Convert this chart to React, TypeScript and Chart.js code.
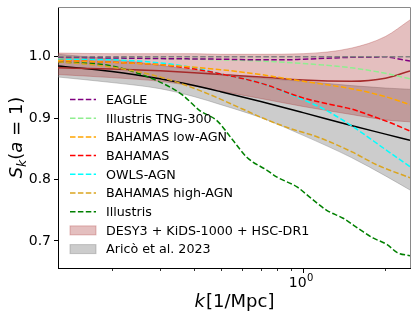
import React, { useEffect, useRef } from 'react';
import { Chart, registerables } from 'chart.js';

Chart.register(...registerables);

const FONT = '"DejaVu Sans", "Liberation Sans", sans-serif';

const K_MIN = 0.127;
const K_MAX = 2.46;
const Y_MIN = 0.656;
const Y_MAX = 1.081;

const xTickValues = [0.2, 0.3, 0.4, 0.5, 0.6, 0.7, 0.8, 0.9, 1, 2];
const xMajorBase = '10';
const xMajorExp = '0';
const yTickValues = [0.7, 0.8, 0.9, 1.0];

// Reference line
const kRef = [0.127, 2.46];
const sRef = [1.0, 1.0];

// Simulation curves
const kEagle = [0.127, 0.2, 0.3, 0.5, 0.7, 0.86, 1.0, 1.3, 1.5, 1.8, 2.0, 2.2, 2.46];
const sEagle = [0.999, 0.998, 0.997, 0.996, 0.995, 0.995, 0.996, 0.998, 0.999, 0.999, 1.0, 0.997, 0.993];

const kTng = [0.127, 0.2, 0.3, 0.5, 0.7, 1.0, 1.5, 2.0, 2.46];
const sTng = [0.998, 0.998, 0.997, 0.995, 0.993, 0.989, 0.982, 0.973, 0.964];

const kLowAgn = [0.127, 0.2, 0.3, 0.5, 0.7, 1.0, 1.5, 2.0, 2.46];
const sLowAgn = [0.994, 0.991, 0.987, 0.979, 0.971, 0.960, 0.948, 0.935, 0.922];

const kBahamas = [0.127, 0.2, 0.3, 0.4, 0.5, 0.7, 1.0, 1.3, 1.5, 1.8, 2.1, 2.46];
const sBahamas = [0.994, 0.991, 0.987, 0.980, 0.972, 0.957, 0.933, 0.921, 0.915, 0.903, 0.892, 0.879];

const kOwls = [0.127, 0.2, 0.3, 0.4, 0.5, 0.7, 1.0, 1.2, 1.5, 2.0, 2.46];
const sOwls = [0.996, 0.995, 0.990, 0.982, 0.972, 0.957, 0.930, 0.914, 0.888, 0.849, 0.821];

const kHighAgn = [0.127, 0.2, 0.3, 0.43, 0.6, 0.74, 0.9, 1.135, 1.51, 1.88, 2.46];
const sHighAgn = [0.992, 0.983, 0.967, 0.943, 0.915, 0.897, 0.883, 0.869, 0.845, 0.823, 0.803];

const kIllustris = [0.127, 0.2, 0.275, 0.334, 0.364, 0.42, 0.484, 0.554, 0.624, 0.738, 0.803, 0.95, 1.06, 1.22, 1.40, 1.62, 1.80, 2.03, 2.21, 2.46];
const sIllustris = [0.992, 0.985, 0.966, 0.948, 0.937, 0.912, 0.896, 0.864, 0.836, 0.815, 0.804, 0.788, 0.771, 0.750, 0.737, 0.718, 0.705, 0.694, 0.681, 0.676];

// Bands
const kBand = [0.127, 0.2, 0.3, 0.4, 0.5, 0.7, 1.0, 1.5, 2.0, 2.46];
const desCenter = [0.982, 0.980, 0.977, 0.974, 0.971, 0.967, 0.962, 0.960, 0.965, 0.977];
const desUpper = [1.006, 1.005, 1.005, 1.005, 1.004, 1.004, 1.005, 1.014, 1.033, 1.060];
const desLower = [0.971, 0.966, 0.960, 0.952, 0.944, 0.932, 0.919, 0.906, 0.897, 0.894];

const aricoCenter = [0.985, 0.976, 0.964, 0.953, 0.943, 0.927, 0.909, 0.888, 0.874, 0.864];
const aricoUpper = [1.004, 0.996, 0.986, 0.978, 0.972, 0.965, 0.960, 0.953, 0.949, 0.947];
const aricoLower = [0.967, 0.958, 0.948, 0.935, 0.922, 0.901, 0.872, 0.836, 0.806, 0.783];

const lineLabels = ['EAGLE', 'Illustris TNG-300', 'BAHAMAS low-AGN', 'BAHAMAS', 'OWLS-AGN', 'BAHAMAS high-AGN', 'Illustris'];
const lineColors = ['#800080', '#90EE90', '#FFA500', '#FF0000', '#00FFFF', '#DAA520', '#008000'];
const lineKs = [kEagle, kTng, kLowAgn, kBahamas, kOwls, kHighAgn, kIllustris];
const lineVals = [sEagle, sTng, sLowAgn, sBahamas, sOwls, sHighAgn, sIllustris];

const bandLabels = ['DESY3 + KiDS-1000 + HSC-DR1', 'Aricò et al. 2023'];
const bandFills = ['rgba(165,42,42,0.3)', 'rgba(128,128,128,0.4)'];
const bandLines = ['#A52A2A', '#000000'];

const DASH = [5.5, 2.4];

const pts = (ks: number[], vs: number[]) => ks.map((k, i) => ({ x: k, y: vs[i] }));

const decorPlugin = {
  id: 'decor',
  afterDatasetsDraw(chart: any) {
    const { ctx, chartArea, scales } = chart;
    const { left, right, top, bottom } = chartArea;
    ctx.save();
    // top and right spines
    ctx.strokeStyle = '#8a8a8a';
    ctx.lineWidth = 1;
    ctx.beginPath();
    ctx.moveTo(left, top + 0.5);
    ctx.lineTo(right + 0.5, top + 0.5);
    ctx.lineTo(right + 0.5, bottom);
    ctx.stroke();
    // minor x ticks
    ctx.strokeStyle = '#000';
    ctx.lineWidth = 0.8;
    xTickValues.forEach((v) => {
      if (v === 1) return;
      const px = Math.round(scales.x.getPixelForValue(v)) + 0.5;
      ctx.beginPath();
      ctx.moveTo(px, bottom);
      ctx.lineTo(px, bottom + 3);
      ctx.stroke();
    });
    ctx.restore();
  },
  afterDraw(chart: any) {
    const { ctx, chartArea, scales } = chart;
    const { left, right, top, bottom } = chartArea;
    ctx.save();

    // major x tick label 10^0
    const tx = scales.x.getPixelForValue(1);
    ctx.fillStyle = '#000';
    ctx.textAlign = 'left';
    ctx.textBaseline = 'alphabetic';
    ctx.font = `14px ${FONT}`;
    const wb = ctx.measureText(xMajorBase).width;
    ctx.font = `10px ${FONT}`;
    const we = ctx.measureText(xMajorExp).width;
    const sx = tx - 2 - (wb + we + 0.5) / 2;
    ctx.font = `14px ${FONT}`;
    ctx.fillText(xMajorBase, sx, bottom + 18.5);
    ctx.font = `10px ${FONT}`;
    ctx.fillText(xMajorExp, sx + wb + 0.5, bottom + 13);

    // legend
    const x0 = left + 12;
    const y0 = top + 92.5;
    const step = 18.7;
    ctx.font = `12.7px ${FONT}`;
    ctx.textBaseline = 'middle';
    ctx.textAlign = 'left';
    const entries: { label: string; kind: string; color: string }[] = [];
    lineLabels.forEach((l, i) => entries.push({ label: l, kind: 'line', color: lineColors[i] }));
    bandLabels.forEach((l, i) => entries.push({ label: l, kind: 'band', color: bandFills[i] }));
    entries.forEach((e, i) => {
      const y = y0 + i * step;
      if (e.kind === 'line') {
        ctx.setLineDash(DASH);
        ctx.strokeStyle = e.color;
        ctx.lineWidth = 1.5;
        ctx.beginPath();
        ctx.moveTo(x0, y);
        ctx.lineTo(x0 + 26, y);
        ctx.stroke();
        ctx.setLineDash([]);
      } else {
        ctx.fillStyle = e.color;
        ctx.fillRect(x0, y - 4.5, 26, 9);
        ctx.strokeStyle = e.color;
        ctx.lineWidth = 1;
        ctx.strokeRect(x0, y - 4.5, 26, 9);
      }
      ctx.fillStyle = '#000';
      ctx.fillText(e.label, x0 + 36, y + 1);
    });

    // x title: k[1/Mpc]
    ctx.textBaseline = 'alphabetic';
    const fItal = `italic 18px ${FONT}`;
    const fNorm = `18px ${FONT}`;
    ctx.font = fItal;
    const wk = ctx.measureText('k').width;
    ctx.font = fNorm;
    const wr = ctx.measureText('[1/Mpc]').width;
    const cx = (left + right) / 2;
    const xs = cx - (wk + wr) / 2;
    const by = 307;
    ctx.font = fItal;
    ctx.fillText('k', xs, by);
    ctx.font = fNorm;
    ctx.fillText('[1/Mpc]', xs + wk + 1, by);

    // y title: S_k(a = 1)
    const parts: { t: string; f: string; dy: number }[] = [
      { t: 'S', f: fItal, dy: 0 },
      { t: 'k', f: `italic 12.5px ${FONT}`, dy: 3.5 },
      { t: '(', f: fNorm, dy: 0 },
      { t: 'a', f: fItal, dy: 0 },
      { t: ' = ', f: fNorm, dy: 0 },
      { t: '1', f: fNorm, dy: 0 },
      { t: ')', f: fNorm, dy: 0 },
    ];
    let total = 0;
    const widths = parts.map((p) => {
      ctx.font = p.f;
      const w = ctx.measureText(p.t).width;
      total += w;
      return w;
    });
    ctx.translate(22, (top + bottom) / 2);
    ctx.rotate(-Math.PI / 2);
    let px = -total / 2;
    parts.forEach((p, i) => {
      ctx.font = p.f;
      ctx.fillText(p.t, px, p.dy);
      px += widths[i];
    });
    ctx.restore();
  },
};

export default function App() {
  const ref = useRef<HTMLCanvasElement | null>(null);
  useEffect(() => {
    if (!ref.current) return;
    const datasets: any[] = [];
    datasets.push({
      label: 'ref',
      data: pts(kRef, sRef),
      borderColor: '#808080',
      borderWidth: 1.5,
      borderDash: DASH,
      pointRadius: 0,
      fill: false,
      order: 0,
    });
    lineLabels.forEach((l, i) => {
      datasets.push({
        label: l,
        data: pts(lineKs[i], lineVals[i]),
        borderColor: lineColors[i],
        borderWidth: 1.5,
        borderDash: DASH,
        pointRadius: 0,
        fill: false,
        cubicInterpolationMode: 'monotone',
        order: 1,
      });
    });
    const bands = [
      [desUpper, desLower, desCenter],
      [aricoUpper, aricoLower, aricoCenter],
    ];
    bands.forEach((b, j) => {
      const upIdx = datasets.length;
      datasets.push({
        label: bandLabels[j] + ' upper',
        data: pts(kBand, b[0]),
        borderColor: bandFills[j],
        borderWidth: 1,
        pointRadius: 0,
        fill: false,
        cubicInterpolationMode: 'monotone',
        order: 5 + j,
      });
      datasets.push({
        label: bandLabels[j],
        data: pts(kBand, b[1]),
        borderColor: bandFills[j],
        backgroundColor: bandFills[j],
        borderWidth: 1,
        pointRadius: 0,
        fill: upIdx,
        cubicInterpolationMode: 'monotone',
        order: 5 + j,
      });
      datasets.push({
        label: bandLabels[j] + ' center',
        data: pts(kBand, b[2]),
        borderColor: bandLines[j],
        borderWidth: 1.5,
        pointRadius: 0,
        fill: false,
        cubicInterpolationMode: 'monotone',
        order: 2,
      });
    });

    const chart = new Chart(ref.current, {
      type: 'line',
      data: { datasets },
      plugins: [decorPlugin],
      options: {
        animation: false,
        responsive: false,
        parsing: true,
        layout: { padding: { top: 7, right: 7, left: 0, bottom: 0 } },
        plugins: {
          legend: { display: false },
          tooltip: { enabled: false },
        },
        scales: {
          x: {
            type: 'logarithmic',
            min: K_MIN,
            max: K_MAX,
            afterBuildTicks: (s: any) => {
              s.ticks = xTickValues.map((v) => ({ value: v, major: v === 1 }));
            },
            afterFit: (s: any) => {
              s.height = 51;
              s.paddingLeft = 0;
              s.paddingRight = 0;
            },
            ticks: {
              autoSkip: false,
              maxRotation: 0,
              color: '#000',
              padding: 2,
              font: { family: FONT, size: 14 },
              callback: () => '',
            },
            grid: {
              drawOnChartArea: false,
              tickLength: 5,
              tickColor: (ctx: any) => (ctx.tick && ctx.tick.value === 1 ? '#000' : 'rgba(0,0,0,0)'),
            },
            border: { color: '#000', width: 1 },
          },
          y: {
            type: 'linear',
            min: Y_MIN,
            max: Y_MAX,
            afterBuildTicks: (s: any) => {
              s.ticks = yTickValues.map((v) => ({ value: v }));
            },
            afterFit: (s: any) => {
              s.width = 58;
              s.paddingTop = 0;
              s.paddingBottom = 0;
            },
            ticks: {
              color: '#000',
              padding: 3,
              font: { family: FONT, size: 14 },
              callback: (v: any) => Number(v).toFixed(1),
            },
            grid: { drawOnChartArea: false, tickLength: 4, color: '#000' },
            border: { color: '#000', width: 1 },
          },
        },
      } as any,
    });
    return () => chart.destroy();
  }, []);
  return (
    <div style={{ position: 'absolute', left: 0, top: 0, width: 417, height: 319 }}>
      <canvas ref={ref} width={417} height={319} />
    </div>
  );
}
